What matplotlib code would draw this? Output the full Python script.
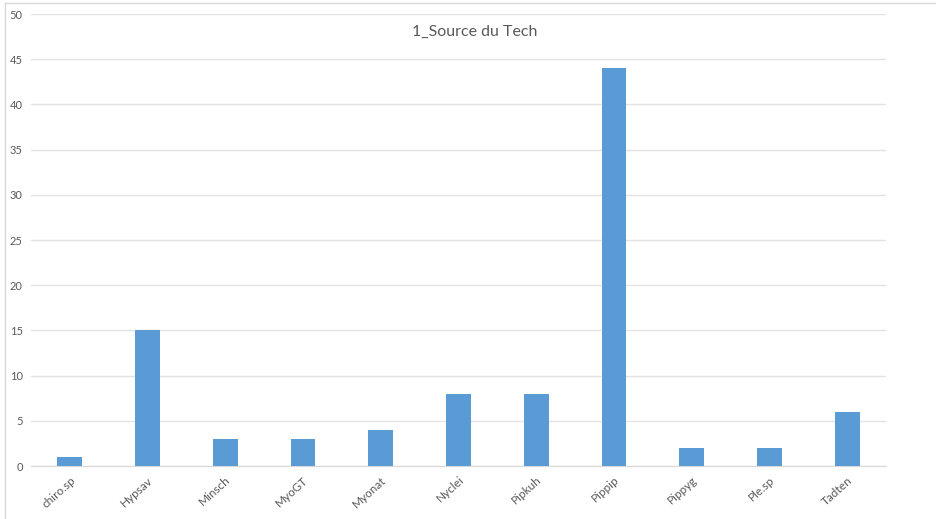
import matplotlib
matplotlib.use('Agg')
import matplotlib.pyplot as plt
from matplotlib.lines import Line2D
import numpy as np

species = ['chiro.sp', 'Hypsav', 'Minsch', 'MyoGT', 'Myonat', 'Nyclei',
           'Pipkuh', 'Pippip', 'Pippyg', 'Ple.sp', 'Tadten']
counts = [1, 15, 3, 3, 4, 8, 8, 44, 2, 2, 6]
y_ticks = [0, 5, 10, 15, 20, 25, 30, 35, 40, 45, 50]

plt.rcParams['font.family'] = ['Lato', 'DejaVu Sans']
text_grey = '#595959'

fig = plt.figure(figsize=(9.36, 5.19), dpi=100)
ax = fig.add_axes([0.0331, 0.1021, 0.9135, 0.8709])

x = np.arange(len(species))
ax.bar(x, counts, width=0.32, color='#5B9BD5', zorder=3)

ax.set_xlim(-0.5, len(species) - 0.5)
ax.set_ylim(0, 50)
ax.set_yticks(y_ticks)
ax.set_yticklabels([str(v) for v in y_ticks], fontsize=8, color=text_grey)
ax.set_xticks(x)
ax.set_xticklabels(species, fontsize=8.5, color=text_grey, rotation=42,
                   ha='right', rotation_mode='anchor')
ax.tick_params(axis='both', length=0)
ax.tick_params(axis='y', pad=6)
ax.tick_params(axis='x', pad=6)
ax.grid(axis='y', color='#E3E3E3', linewidth=1, zorder=0)
for side in ['top', 'right', 'left']:
    ax.spines[side].set_visible(False)
ax.spines['bottom'].set_color('#D9D9D9')

fig.text(0.507, 0.938, '1_Source du Tech', ha='center', va='center',
         fontsize=11.5, color=text_grey)

# chart frame (top and left edges visible)
fig.add_artist(Line2D([0.0055, 0.0055], [0, 0.995], color='#D9D9D9', lw=1))
fig.add_artist(Line2D([0.0055, 1], [0.995, 0.995], color='#D9D9D9', lw=1))

fig.savefig('out.png', dpi=100)
